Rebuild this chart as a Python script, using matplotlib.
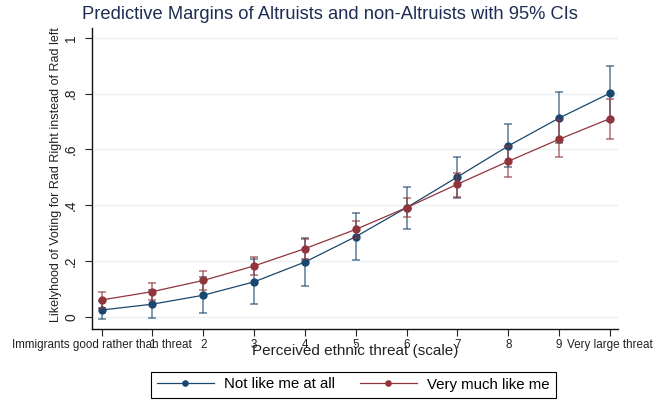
import matplotlib
matplotlib.use("Agg")
import matplotlib.pyplot as plt

plt.rcParams['font.family'] = ['Liberation Sans', 'DejaVu Sans']

# threat scale 0..10
x = [0, 1, 2, 3, 4, 5, 6, 7, 8, 9, 10]
xticklabels = ["Immigrants good rather than threat", "1", "2", "3", "4", "5",
               "6", "7", "8", "9", "Very large threat"]

# Not like me at all
blue_y = [0.024, 0.045, 0.077, 0.125, 0.196, 0.287, 0.391, 0.501, 0.612, 0.712, 0.801]
blue_lo = [-0.009, -0.006, 0.012, 0.044, 0.110, 0.203, 0.313, 0.427, 0.535, 0.622, 0.700]
blue_hi = [0.057, 0.096, 0.142, 0.206, 0.283, 0.371, 0.464, 0.573, 0.689, 0.804, 0.900]

# Very much like me
red_y = [0.060, 0.090, 0.130, 0.182, 0.244, 0.313, 0.391, 0.475, 0.557, 0.636, 0.710]
red_lo = [0.031, 0.060, 0.096, 0.150, 0.207, 0.283, 0.356, 0.429, 0.501, 0.574, 0.638]
red_hi = [0.090, 0.120, 0.165, 0.214, 0.280, 0.344, 0.427, 0.515, 0.613, 0.705, 0.781]

blue = '#1a476f'
red = '#90353b'

fig = plt.figure(figsize=(6.54, 4.05), dpi=100)
ax = fig.add_axes([0.1407, 0.1877, 0.8043, 0.7433])

for y, lo, hi, c, lab in [(blue_y, blue_lo, blue_hi, blue, "Not like me at all"),
                          (red_y, red_lo, red_hi, red, "Very much like me")]:
    err = [[v - l for v, l in zip(y, lo)], [h - v for v, h in zip(y, hi)]]
    ax.errorbar(x, y, yerr=err, fmt='none', ecolor=c, alpha=0.65,
                elinewidth=1.2, capsize=3, capthick=1.2)
    ax.plot(x, y, color=c, lw=0.9, marker='o', ms=5, label=lab)

ax.set_xlim(-0.19, 10.16)
ax.set_ylim(-0.044, 1.035)
ax.set_yticks([0, 0.2, 0.4, 0.6, 0.8, 1])
ax.set_yticklabels(["0", ".2", ".4", ".6", ".8", "1"], rotation=90, va='center', fontsize=10)
ax.set_xticks(x)
ax.set_xticklabels(xticklabels, fontsize=8.4)
ax.tick_params(axis='x', length=5, width=0.8, pad=2, colors='#222222')
ax.tick_params(axis='y', length=5, width=0.8, pad=5, colors='#222222')
ax.grid(axis='y', color='#eaf2f3', lw=1)
ax.set_axisbelow(True)
for s in ['top', 'right']:
    ax.spines[s].set_visible(False)
for s in ['left', 'bottom']:
    ax.spines[s].set_color('#111111')
    ax.spines[s].set_linewidth(1)

ax.set_xlabel("Perceived ethnic threat (scale)", fontsize=11, color='#222222')
ax.xaxis.set_label_coords(0.5, -0.05)
ax.set_ylabel("Likelyhood of Voting for Rad Right instead of Rad left", fontsize=9, color='#222222')
ax.yaxis.set_label_coords(-0.058, 0.512)

fig.suptitle("Predictive Margins of Altruists and non-Altruists with 95% CIs",
             fontsize=13.2, color='#1e2d53', x=0.505, y=0.985)

leg = fig.legend(loc='lower center', bbox_to_anchor=(0.54, 0.0), ncol=2,
                 fontsize=10.8, fancybox=False, framealpha=1, edgecolor='black',
                 handlelength=3.8, handletextpad=0.67, columnspacing=1.67,
                 borderpad=0.4, markerscale=0.75)
leg.get_frame().set_linewidth(0.8)

fig.savefig("out.png", dpi=100)
